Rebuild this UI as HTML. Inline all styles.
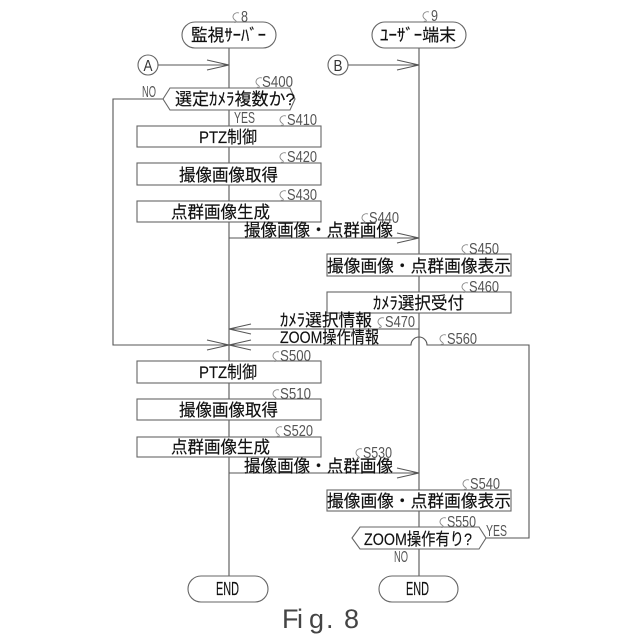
<!DOCTYPE html>
<html><head><meta charset="utf-8">
<style>
html,body{margin:0;padding:0;background:#fff}
svg{display:block}
.l{fill:none;stroke:#555;stroke-width:1.1}
.s{fill:#fff;stroke:#666;stroke-width:1.1}
.t{font-family:"Liberation Sans","Noto Sans CJK JP",sans-serif;font-size:17px;fill:#111;stroke:#111;stroke-width:.15}
.c{font-family:"Liberation Sans",sans-serif;font-size:16px;fill:#555}
.q{fill:none;stroke:#888;stroke-width:.9}
</style></head><body>
<svg width="640" height="640" viewBox="0 0 640 640" xmlns="http://www.w3.org/2000/svg">
<defs><path id="q" d="M7 -9C4 -10 1 -8 1 -5C1 -3 3 -2 4 -1C5 0 3 1 2 0"/></defs>
<rect width="640" height="640" fill="#fff"/>

<!-- main verticals -->
<path class="l" d="M229 48V576"/>
<path class="l" d="M419 48V576"/>

<!-- connectors -->
<circle class="s" cx="148" cy="65" r="10"/>
<circle class="s" cx="338" cy="65" r="10"/>
<path class="l" d="M158 65H229M207 60L229 65L207 70"/>
<path class="l" d="M348 65H419M397 60L419 65L397 70"/>
<path class="l" d="M163 99H113V345H411A8 8 0 0 1 427 345H529V538H486"/>
<path class="l" d="M229 238H419M397 233L419 238L397 243"/>
<path class="l" d="M419 329H229M251 324L229 329L251 334"/>
<path class="l" d="M207 340L229 345L207 350M251 340L229 345L251 350"/>
<path class="l" d="M229 473H419M397 468L419 473L397 478"/>

<!-- terminals -->
<rect class="s" x="182" y="22" width="94" height="26" rx="13"/>
<rect class="s" x="372" y="22" width="94" height="26" rx="13"/>
<rect class="s" x="188" y="576" width="80" height="26" rx="13"/>
<rect class="s" x="379" y="576" width="79" height="26" rx="13"/>

<!-- decisions -->
<path class="s" d="M163 99L170 88H290L295 99L290 110H170Z"/>
<path class="s" d="M352 538L360 527H479L486 538L479 549H360Z"/>

<!-- process boxes -->
<rect class="s" x="137" y="126" width="184" height="21"/>
<rect class="s" x="137" y="163" width="184" height="22"/>
<rect class="s" x="137" y="201" width="184" height="21"/>
<rect class="s" x="327" y="254" width="184" height="22"/>
<rect class="s" x="327" y="292" width="184" height="21"/>
<rect class="s" x="137" y="361" width="184" height="22"/>
<rect class="s" x="137" y="399" width="184" height="21"/>
<rect class="s" x="137" y="437" width="184" height="20"/>
<rect class="s" x="327" y="490" width="184" height="21"/>

<!-- node text -->
<text class="t" x="191" y="41" textLength="75" lengthAdjust="spacingAndGlyphs">監視ｻｰﾊﾞｰ</text>
<text class="t" x="380" y="41" textLength="76" lengthAdjust="spacingAndGlyphs">ﾕｰｻﾞｰ端末</text>
<text class="t" x="175" y="105" textLength="120" lengthAdjust="spacingAndGlyphs">選定ｶﾒﾗ複数か?</text>
<text class="t" x="199" y="143" textLength="58" lengthAdjust="spacingAndGlyphs">PTZ制御</text>
<text class="t" x="179" y="181" textLength="99" lengthAdjust="spacingAndGlyphs">撮像画像取得</text>
<text class="t" x="171" y="218" textLength="99" lengthAdjust="spacingAndGlyphs">点群画像生成</text>
<text class="t" x="244" y="236" textLength="149" lengthAdjust="spacingAndGlyphs">撮像画像・点群画像</text>
<text class="t" x="327" y="272" textLength="184" lengthAdjust="spacingAndGlyphs">撮像画像・点群画像表示</text>
<text class="t" x="373" y="309" textLength="91" lengthAdjust="spacingAndGlyphs">ｶﾒﾗ選択受付</text>
<text class="t" x="280" y="326" textLength="92" lengthAdjust="spacingAndGlyphs">ｶﾒﾗ選択情報</text>
<text class="t" x="280" y="343" textLength="99" lengthAdjust="spacingAndGlyphs">ZOOM操作情報</text>
<text class="t" x="199" y="378" textLength="58" lengthAdjust="spacingAndGlyphs">PTZ制御</text>
<text class="t" x="179" y="416" textLength="99" lengthAdjust="spacingAndGlyphs">撮像画像取得</text>
<text class="t" x="171" y="453" textLength="99" lengthAdjust="spacingAndGlyphs">点群画像生成</text>
<text class="t" x="244" y="472" textLength="149" lengthAdjust="spacingAndGlyphs">撮像画像・点群画像</text>
<text class="t" x="327" y="507" textLength="184" lengthAdjust="spacingAndGlyphs">撮像画像・点群画像表示</text>
<text class="t" x="364" y="545" textLength="108" lengthAdjust="spacingAndGlyphs">ZOOM操作有り?</text>
<text class="t" x="216" y="595" textLength="23" lengthAdjust="spacingAndGlyphs" style="font-size:18px">END</text>
<text class="t" x="406" y="595" textLength="23" lengthAdjust="spacingAndGlyphs" style="font-size:18px">END</text>
<text class="c" x="143.500" y="71" textLength="9" lengthAdjust="spacingAndGlyphs" style="fill:#333">A</text>
<text class="c" x="333.500" y="71" textLength="9" lengthAdjust="spacingAndGlyphs" style="fill:#333">B</text>

<!-- step labels -->
<text class="c" x="241" y="22" textLength="7" lengthAdjust="spacingAndGlyphs">8</text>
<text class="c" x="431" y="21" textLength="7" lengthAdjust="spacingAndGlyphs">9</text>
<text class="c" x="262" y="87" textLength="31" lengthAdjust="spacingAndGlyphs">S400</text>
<text class="c" x="287" y="125" textLength="30" lengthAdjust="spacingAndGlyphs">S410</text>
<text class="c" x="287" y="162" textLength="30" lengthAdjust="spacingAndGlyphs">S420</text>
<text class="c" x="287" y="200" textLength="30" lengthAdjust="spacingAndGlyphs">S430</text>
<text class="c" x="369" y="223" textLength="30" lengthAdjust="spacingAndGlyphs">S440</text>
<text class="c" x="469" y="254" textLength="30" lengthAdjust="spacingAndGlyphs">S450</text>
<text class="c" x="469" y="292" textLength="30" lengthAdjust="spacingAndGlyphs">S460</text>
<text class="c" x="385" y="327" textLength="30" lengthAdjust="spacingAndGlyphs">S470</text>
<text class="c" x="280" y="361" textLength="31" lengthAdjust="spacingAndGlyphs">S500</text>
<text class="c" x="280" y="399" textLength="31" lengthAdjust="spacingAndGlyphs">S510</text>
<text class="c" x="283" y="436" textLength="30" lengthAdjust="spacingAndGlyphs">S520</text>
<text class="c" x="363" y="458" textLength="29" lengthAdjust="spacingAndGlyphs">S530</text>
<text class="c" x="470" y="489" textLength="30" lengthAdjust="spacingAndGlyphs">S540</text>
<text class="c" x="447" y="527" textLength="29" lengthAdjust="spacingAndGlyphs">S550</text>
<text class="c" x="447" y="344" textLength="30" lengthAdjust="spacingAndGlyphs">S560</text>
<text class="c" x="234" y="123" textLength="21" lengthAdjust="spacingAndGlyphs">YES</text>
<text class="c" x="142" y="97" textLength="14" lengthAdjust="spacingAndGlyphs">NO</text>
<text class="c" x="486" y="536" textLength="21" lengthAdjust="spacingAndGlyphs">YES</text>
<text class="c" x="394" y="562" textLength="14" lengthAdjust="spacingAndGlyphs">NO</text>

<!-- label leaders -->
<g class="q">
<use href="#q" x="232" y="22"/>
<use href="#q" x="422" y="21"/>
<use href="#q" x="255" y="87"/>
<use href="#q" x="279" y="125"/>
<use href="#q" x="279" y="162"/>
<use href="#q" x="279" y="200"/>
<use href="#q" x="361" y="223"/>
<use href="#q" x="461" y="254"/>
<use href="#q" x="461" y="292"/>
<use href="#q" x="377" y="327"/>
<use href="#q" x="272" y="361"/>
<use href="#q" x="272" y="399"/>
<use href="#q" x="275" y="436"/>
<use href="#q" x="355" y="458"/>
<use href="#q" x="462" y="489"/>
<use href="#q" x="439" y="527"/>
<use href="#q" x="439" y="344"/>
</g>

<text x="282 297 309 326 344" y="628" style="font-family:'Liberation Sans',sans-serif;font-size:27px;fill:#444">Fig.8</text>
</svg>
</body></html>
